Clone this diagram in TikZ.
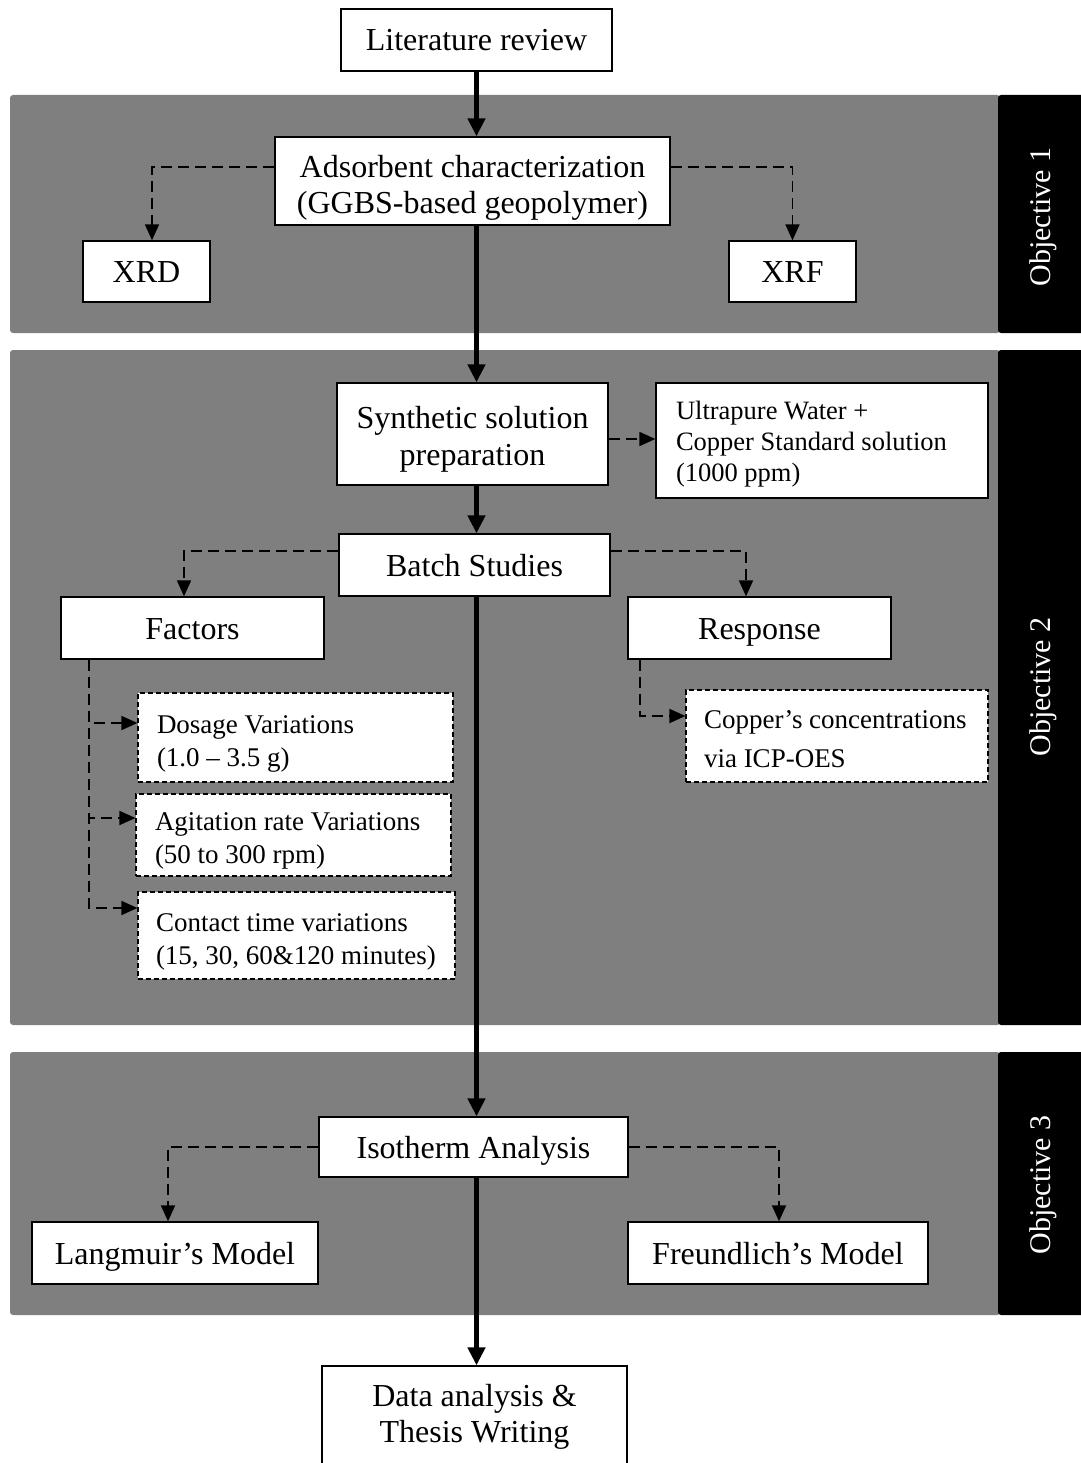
\documentclass[tikz,border=0pt]{standalone}
\usepackage{fontspec}
\setmainfont{Liberation Serif}
\usetikzlibrary{arrows.meta,calc}
\definecolor{panelgray}{HTML}{7F7F7F}
\newcommand{\lift}[1]{\rule{0pt}{#1}}
\begin{document}
\begin{tikzpicture}[x=1pt,y=-1pt,
  box/.style={draw=black,line width=1.3pt,fill=white,align=flush center,inner sep=0pt,font=\fontsize{32}{36}\selectfont},
  single/.style={text height=25pt,text depth=3pt},
  dbox/.style={draw=black,line width=1.2pt,dash pattern=on 5pt off 3pt,fill=white,align=flush left,inner ysep=0pt,font=\fontsize{27}{33}\selectfont},
  mainarrow/.style={line width=5pt,-{Triangle[length=18pt,width=17pt]}},
  dasharrow/.style={line width=1.8pt,dash pattern=on 11pt off 6pt,-{Triangle[length=16pt,width=14pt]}},
  panel/.style={fill=panelgray,rounded corners=3pt},
  tab/.style={fill=black,rounded corners=3pt},
  objlabel/.style={text=white,rotate=90,font=\fontsize{30}{32}\selectfont}
]
\useasboundingbox (0,0) rectangle (1080,1463);

% panels
\fill[panel] (10,95) rectangle (1000,333);
\fill[tab] (998,95) rectangle (1090,333);
\fill[panel] (10,350) rectangle (1000,1025);
\fill[tab] (998,350) rectangle (1090,1025);
\fill[panel] (10,1052) rectangle (1000,1315);
\fill[tab] (998,1052) rectangle (1090,1315);

\node[objlabel] (o1) at (1043,217) {Objective 1};
\node[objlabel] (o2) at (1043,687) {Objective 2};
\node[objlabel] (o3) at (1043,1185) {Objective 3};

% nodes
\node[box,single,minimum width=271pt,minimum height=62pt] (lit) at (476.5,40) {Literature review};
\node[box,minimum width=395pt,minimum height=88pt] (ads) at (472.5,181) {\lift{36pt}Adsorbent characterization\\(GGBS-based geopolymer)};
\node[box,single,minimum width=127pt,minimum height=61pt] (xrd) at (146.5,271.5) {XRD};
\node[box,single,minimum width=127pt,minimum height=61pt] (xrf) at (792.5,271.5) {XRF};

\node[box,minimum width=271pt,minimum height=102pt,font=\fontsize{32}{37}\selectfont] (syn) at (472.5,434) {\lift{32pt}Synthetic solution\\preparation};
\node[box,align=flush left,inner xsep=20pt,text width=292pt,minimum height=115pt,font=\fontsize{26.5}{31}\selectfont] (ultra) at (822,440.5) {\lift{26pt}Ultrapure Water +\\Copper Standard solution\\(1000 ppm)};
\node[box,single,minimum width=271pt,minimum height=62pt] (batch) at (474.5,565) {Batch Studies};
\node[box,single,minimum width=263pt,minimum height=62pt] (factors) at (192.5,628) {Factors};
\node[box,single,minimum width=263pt,minimum height=62pt] (response) at (759.5,628) {Response};

\node[dbox,inner xsep=19pt,text width=277pt,minimum height=89pt] (dosage) at (295.5,737.5) {\lift{31pt}Dosage Variations\\(1.0 – 3.5 g)};
\node[dbox,inner xsep=19pt,text width=277pt,minimum height=82pt] (agit) at (293.5,835) {\lift{30pt}Agitation rate Variations\\(50 to 300 rpm)};
\node[dbox,inner xsep=18pt,text width=281pt,minimum height=87pt] (contact) at (296.5,935.5) {\lift{31pt}Contact time variations\\(15, 30, 60\&120 minutes)};
\node[dbox,inner xsep=18pt,text width=266pt,minimum height=92pt,font=\fontsize{27}{39}\selectfont] (copper) at (837,736) {\lift{24pt}Copper’s concentrations\\via ICP-OES};

\node[box,single,minimum width=309pt,minimum height=60pt] (iso) at (473.5,1147) {Isotherm Analysis};
\node[box,single,minimum width=286pt,minimum height=62pt] (lang) at (175,1253) {Langmuir’s Model};
\node[box,single,minimum width=300pt,minimum height=62pt] (freund) at (778,1253) {Freundlich’s Model};
\node[box,minimum width=305pt,minimum height=98pt] (data) at (474.5,1415) {\lift{26pt}Data analysis \&\\Thesis Writing};

% main flow
\draw[mainarrow] (lit.south) -- (lit.south |- ads.north);
\draw[mainarrow] (lit.south |- ads.south) -- (lit.south |- syn.north);
\draw[mainarrow] (lit.south |- syn.south) -- (lit.south |- batch.north);
\draw[mainarrow] (lit.south |- batch.south) -- (lit.south |- iso.north);
\draw[mainarrow] (lit.south |- iso.south) -- (lit.south |- data.north);

% dashed branches
\draw[dasharrow] ([yshift=14pt]ads.west) -| ([xshift=5.5pt]xrd.north);
\draw[dasharrow] ([yshift=14pt]ads.east) -| (xrf.north);

\coordinate (s1) at ([yshift=-5pt]syn.east);
\draw[dasharrow] (s1) -- (s1 -| ultra.west);

\draw[dasharrow] ([yshift=14pt]batch.west) -| ([xshift=-8.5pt]factors.north);
\draw[dasharrow] ([yshift=14pt]batch.east) -| ([xshift=-13.5pt]response.north);

\coordinate (fx) at ([xshift=29pt]factors.south west);
\draw[dasharrow] (fx) |- ([yshift=14.5pt]dosage.west);
\draw[dasharrow] (fx) |- ([yshift=17pt]agit.west);
\draw[dasharrow] (fx) |- ([yshift=27.5pt]contact.west);

\coordinate (rx) at ([xshift=13pt]response.south west);
\draw[dasharrow] (rx) |- ([yshift=20pt]copper.west);

\draw[dasharrow] (iso.west) -| ([xshift=-7pt]lang.north);
\draw[dasharrow] (iso.east) -| ([xshift=1pt]freund.north);
\end{tikzpicture}
\end{document}
